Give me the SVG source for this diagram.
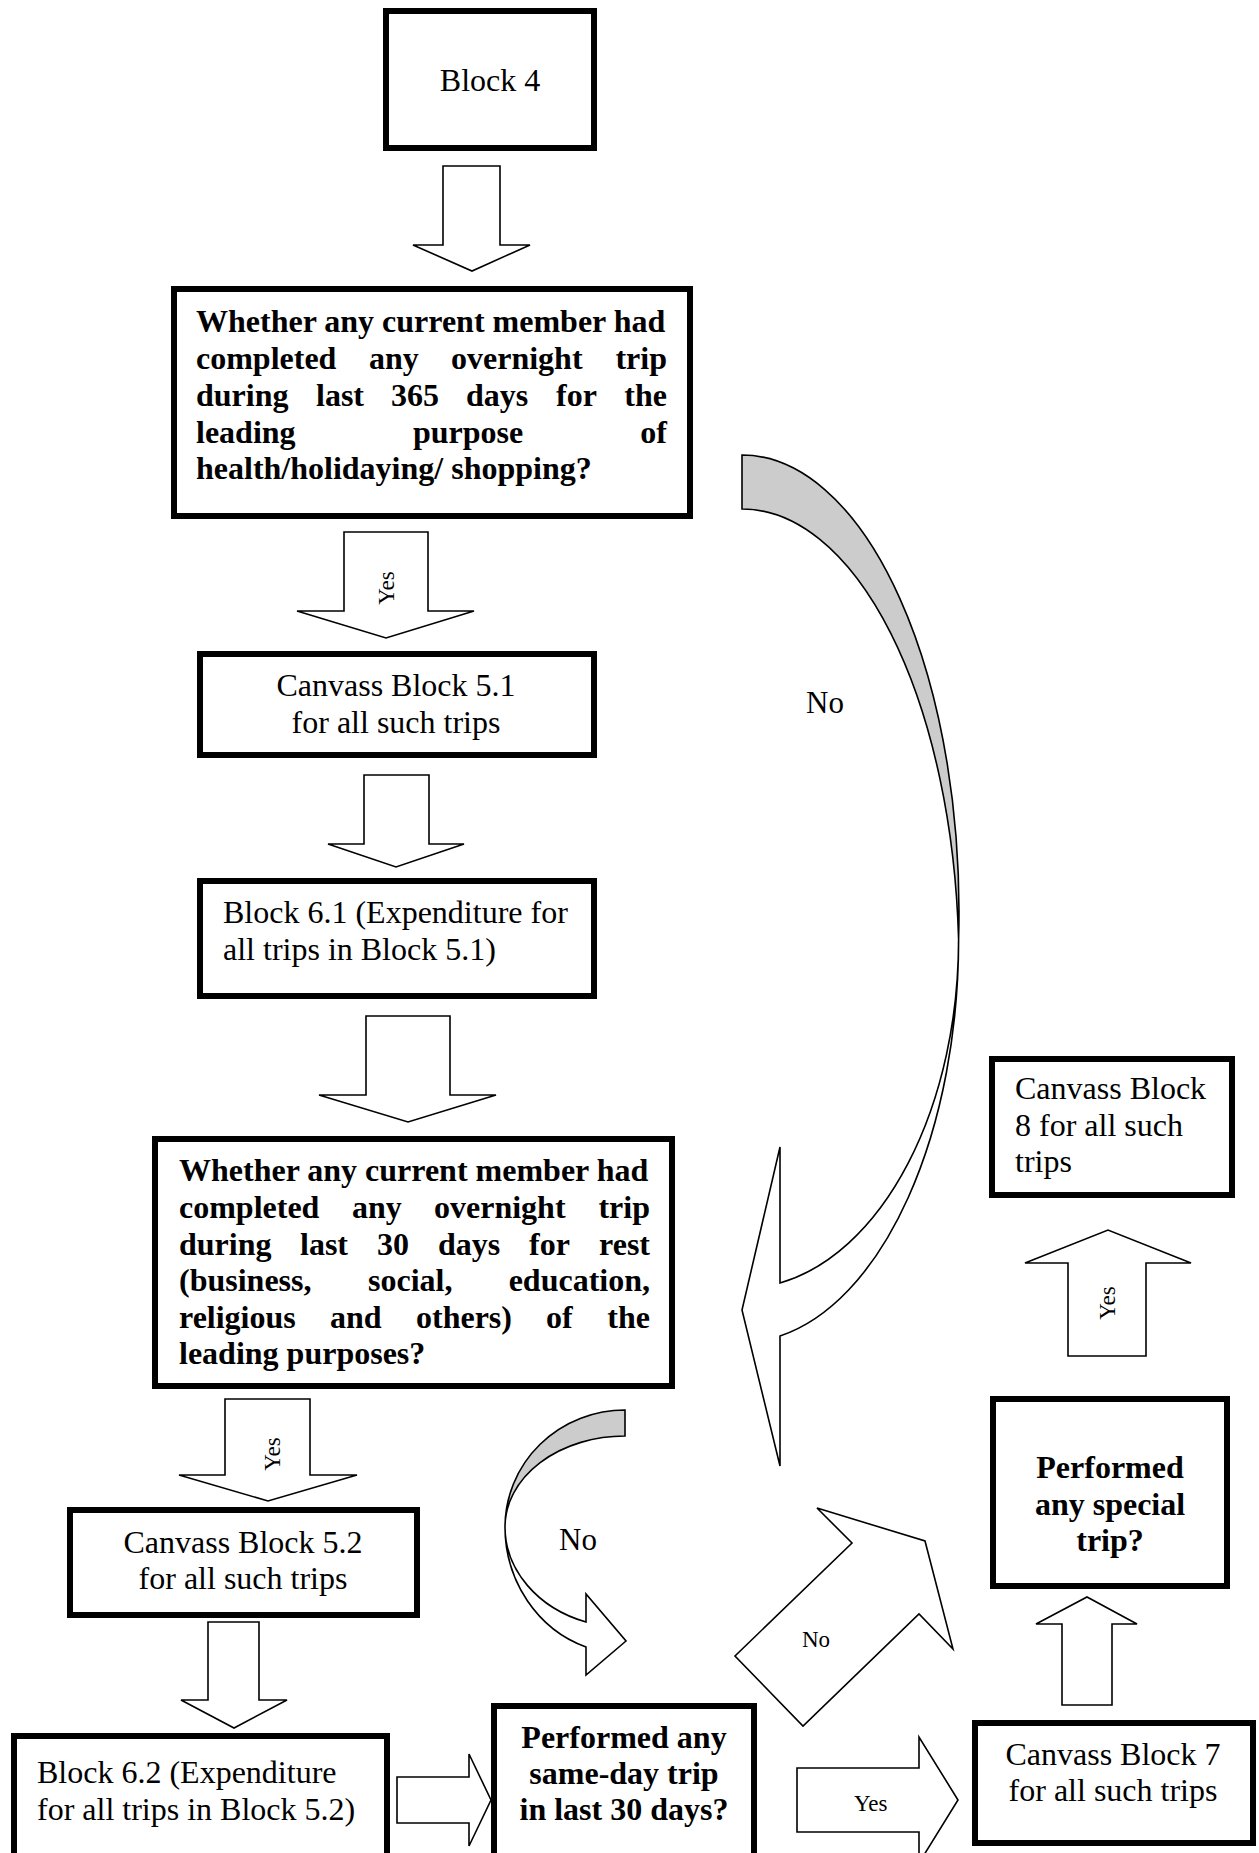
<svg xmlns="http://www.w3.org/2000/svg" width="1259" height="1853" viewBox="0 0 1259 1853">
<style>
.box{fill:#fff;stroke:#000;stroke-width:6}
.t{font-family:"Liberation Serif","Times New Roman",serif;font-size:32px;fill:#000}
.b{font-weight:bold}
.c{text-anchor:middle}
.e{text-anchor:end}
.arr{fill:#fff;stroke:#000;stroke-width:1.6;stroke-linejoin:miter}
.gray{fill:#cccccc;stroke:#000;stroke-width:1.6}
.lbl{font-family:"Liberation Serif","Times New Roman",serif;font-size:23px;fill:#000}
.lblb{font-family:"Liberation Serif","Times New Roman",serif;font-size:31px;fill:#000}
</style>
<rect width="1259" height="1853" fill="#fff"/>
<g id="connectors">
  <polygon class="arr" points="443,166 500,166 500,245 530,245 472,271 413,245 443,245"/>
  <polygon class="arr" points="344,532 428,532 428,611 474,611 386,638 297,611 344,611"/>
  <text class="lbl c" transform="translate(394,588) rotate(-90)">Yes</text>
  <polygon class="arr" points="364,775 429,775 429,844 464,844 396,867 328,844 364,844"/>
  <polygon class="arr" points="366,1016 450,1016 450,1095 496,1095 408,1122 319,1095 366,1095"/>
  <polygon class="arr" points="225,1399 310,1399 310,1475 357,1475 268,1501 179,1475 225,1475"/>
  <text class="lbl c" transform="translate(280,1454) rotate(-90)">Yes</text>
  <polygon class="arr" points="208,1622 259,1622 259,1700 287,1700 234,1728 181,1700 208,1700"/>
  <polygon class="arr" points="397,1777 469,1777 469,1754 491,1800 469,1846 469,1823 397,1823"/>
  <polygon class="arr" points="797,1768 919,1768 919,1737 958,1800 919,1863 919,1832 797,1832"/>
  <text class="lbl" x="854" y="1811">Yes</text>
  <polygon class="arr" points="1062,1705 1062,1624 1036,1624 1087,1597 1137,1624 1112,1624 1112,1705"/>
  <polygon class="arr" points="1068,1356 1068,1263 1025,1263 1108,1230 1191,1263 1146,1263 1146,1356"/>
  <text class="lbl c" transform="translate(1115,1303) rotate(-90)">Yes</text>
  <polygon class="arr" points="817,1508 925,1541 953,1649 919,1614 803,1726 735,1656 852,1543"/>
  <text class="lbl" x="802" y="1647">No</text>
  <path class="gray" d="M742 455 A217 457 0 0 1 958.6 939 A217 457 0 0 0 742 509 Z"/>
  <path class="arr" d="M958.6 939 A217 403 0 0 1 780 1336 L780 1466 L742 1310 L780 1147 L780 1283 A217 349 0 0 0 958.6 939 Z"/>
  <text class="lblb" x="806" y="713">No</text>
  <path class="gray" d="M625 1410 A120 117 0 0 0 505 1527 A120 91 0 0 1 625 1436 Z"/>
  <path class="arr" d="M505 1527 A120 127 0 0 0 586 1647 L586 1675 L626 1641 L586 1594 L586 1622 A120 100.5 0 0 1 505 1527 Z"/>
  <text class="lblb" x="559" y="1550">No</text>
</g>
<g id="block4">
  <rect class="box" x="386" y="11" width="208" height="137"/>
  <text class="t c" x="490" y="91">Block 4</text>
</g>
<g id="q1">
  <rect class="box" x="174" y="289" width="516" height="227"/>
  <g class="t b">
    <text x="196" y="332">Whether any current member had</text>
    <text x="196" y="369">completed</text><text x="369" y="369">any</text><text x="451" y="369">overnight</text><text class="e" x="667" y="369">trip</text>
    <text x="196" y="406">during</text><text x="316" y="406">last</text><text x="391" y="406">365</text><text x="466" y="406">days</text><text x="556" y="406">for</text><text class="e" x="667" y="406">the</text>
    <text x="196" y="443">leading</text><text x="413" y="443">purpose</text><text class="e" x="667" y="443">of</text>
    <text x="196" y="479">health/holidaying/ shopping?</text>
  </g>
</g>
<g id="canvass51">
  <rect class="box" x="200" y="654" width="394" height="101"/>
  <text class="t c" x="396" y="696">Canvass Block 5.1</text>
  <text class="t c" x="396" y="733">for all such trips</text>
</g>
<g id="block61">
  <rect class="box" x="200" y="881" width="394" height="115"/>
  <text class="t" x="223" y="923">Block 6.1 (Expenditure for</text>
  <text class="t" x="223" y="960">all trips in Block 5.1)</text>
</g>
<g id="q2">
  <rect class="box" x="155" y="1139" width="517" height="247"/>
  <g class="t b">
    <text x="179" y="1181">Whether any current member had</text>
    <text x="179" y="1218">completed</text><text x="352" y="1218">any</text><text x="434" y="1218">overnight</text><text class="e" x="650" y="1218">trip</text>
    <text x="179" y="1255">during</text><text x="300" y="1255">last</text><text x="377" y="1255">30</text><text x="438" y="1255">days</text><text x="529" y="1255">for</text><text class="e" x="650" y="1255">rest</text>
    <text x="179" y="1291">(business,</text><text x="368" y="1291">social,</text><text class="e" x="650" y="1291">education,</text>
    <text x="179" y="1328">religious</text><text x="330" y="1328">and</text><text x="416" y="1328">others)</text><text x="546" y="1328">of</text><text class="e" x="650" y="1328">the</text>
    <text x="179" y="1364">leading purposes?</text>
  </g>
</g>
<g id="canvass52">
  <rect class="box" x="70" y="1510" width="347" height="105"/>
  <text class="t c" x="243" y="1553">Canvass Block 5.2</text>
  <text class="t c" x="243" y="1589">for all such trips</text>
</g>
<g id="block62">
  <rect class="box" x="14" y="1736" width="373" height="140"/>
  <text class="t" x="37" y="1783">Block 6.2 (Expenditure</text>
  <text class="t" x="37" y="1820">for all trips in Block 5.2)</text>
</g>
<g id="sameday">
  <rect class="box" x="494" y="1706" width="260" height="170"/>
  <text class="t b c" x="624" y="1748">Performed any</text>
  <text class="t b c" x="624" y="1784">same-day trip</text>
  <text class="t b c" x="624" y="1820">in last 30 days?</text>
</g>
<g id="canvass7">
  <rect class="box" x="975" y="1723" width="278" height="120"/>
  <text class="t c" x="1113" y="1765">Canvass Block 7</text>
  <text class="t c" x="1113" y="1801">for all such trips</text>
</g>
<g id="special">
  <rect class="box" x="993" y="1399" width="234" height="187"/>
  <text class="t b c" x="1110" y="1478">Performed</text>
  <text class="t b c" x="1110" y="1515">any special</text>
  <text class="t b c" x="1110" y="1551">trip?</text>
</g>
<g id="canvass8">
  <rect class="box" x="992" y="1059" width="240" height="136"/>
  <text class="t" x="1015" y="1099">Canvass Block</text>
  <text class="t" x="1015" y="1136">8 for all such</text>
  <text class="t" x="1015" y="1172">trips</text>
</g>
</svg>
